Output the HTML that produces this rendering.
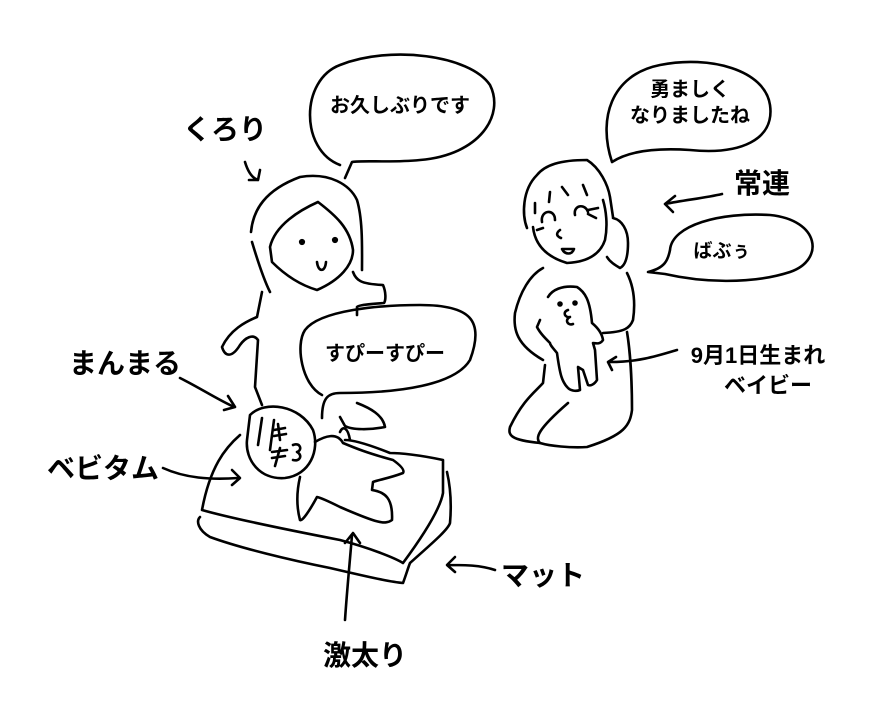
<!DOCTYPE html>
<html><head><meta charset="utf-8"><style>
body{margin:0;background:#fff;}
svg{display:block}
text{font-family:"Liberation Sans","Noto Sans CJK JP",sans-serif;font-weight:bold;fill:#000}
path,ellipse,circle{fill:none;stroke:#000;stroke-width:2.6;stroke-linecap:round;stroke-linejoin:round}
</style></head><body>
<svg width="890" height="710" viewBox="0 0 890 710">
<path d="M340,165 C300,150 300,80 340,65 C390,45 470,55 490,85 C505,115 480,155 420,160 C390,163 365,160 352,162 L345,178"/>
<text x="400" y="112" font-size="20" text-anchor="middle">お久しぶりです</text>
<path d="M612,162 C598,120 610,75 660,65 C710,55 765,70 770,105 C775,140 740,155 690,150 C660,148 630,150 612,162 Z"/>
<text x="690" y="96" font-size="20" text-anchor="middle">勇ましく</text>
<text x="690" y="122" font-size="20" text-anchor="middle">なりましたね</text>
<path d="M648,272 C665,268 668,260 670,250 C672,225 720,212 770,215 C820,220 825,260 790,272 C750,285 700,282 665,274 Z"/>
<text x="722" y="257" font-size="19" text-anchor="middle">ばぶぅ</text>
<path d="M322,395 C302,385 295,345 305,330 C320,310 380,305 420,305 C470,305 485,320 470,360 C455,385 400,393 340,393 C328,393 322,398 322,418"/>
<text x="385" y="360" font-size="20" text-anchor="middle">すぴーすぴー</text>
<path d="M251,232 C253,210 265,190 300,177 C330,172 350,185 357,200 C363,220 362,250 362,270"/>
<path d="M270,247 C275,225 300,210 318,202 C335,215 350,228 353,250 C353,265 340,280 317,290 C300,285 285,275 272,262 Z"/>
<path d="M252,242 C258,262 264,280 270,292"/>
<circle cx="302" cy="242" r="1.8" style="fill:#000"/><circle cx="335" cy="240" r="1.8" style="fill:#000"/>
<path d="M317,262 C318,272 325,273 326,262"/>
<path d="M353,272 C356,280 360,284 383,285 C386,292 386,300 384,303 C370,304 358,305 357,307 L357,315"/>
<path d="M262,292 L257,317 C245,322 230,330 222,347 C225,357 232,358 240,345 C245,338 253,333 258,340 L255,387 L262,405"/>
<path d="M357,403 C370,408 383,415 385,427 C370,430 352,430 345,426 L340,417"/>
<path d="M250,415 C265,400 300,405 313,430 C320,450 310,475 285,478 C260,480 245,460 247,440 Z"/>
<path d="M262,418 L258,445 M274,420 L270,450"/>
<path d="M274,430 L285,428 M274,436 L286,434 M278,424 L280,440"/>
<path d="M293,445 C300,442 303,450 297,452 C303,455 300,462 293,460"/>
<path d="M272,452 L287,450 M272,458 L285,456 M280,448 L275,466"/>
<path d="M315,442 C325,436 337,432 343,443 C355,448 367,453 393,460 C400,465 405,470 403,473 C390,478 378,480 373,482 L372,490 C385,492 393,498 392,520 C385,525 377,523 340,507 C330,502 322,498 317,497 C310,510 302,522 300,520 C296,505 297,490 300,477"/>
<path d="M340,432 C343,425 348,428 350,440"/>
<path d="M240,435 C225,448 210,467 202,510 C230,518 273,527 340,540 C370,548 395,558 403,563 C420,540 440,510 443,493 L443,460 C420,455 400,453 390,453 C370,445 355,440 345,440"/>
<path d="M200,517 C196,521 198,530 210,537 C240,548 290,560 330,568 C360,575 390,582 403,583 C406,575 408,568 410,563 C430,545 448,530 450,523 C452,500 450,485 447,472"/>
<path d="M527,228 C522,215 522,190 537,175 C545,165 560,160 587,160 C600,168 608,185 610,197 L613,217"/>
<path d="M533,227 C535,245 547,257 567,263 C587,262 600,255 605,240 C608,225 606,210 603,200"/>
<path d="M535,203 L535,213 M550,192 L549,202 M562,187 L568,195 M583,185 L587,195"/>
<path d="M542,222 C540,210 555,208 555,220 M543,228 L537,230"/>
<path d="M575,215 C573,205 585,203 588,212 M588,210 L598,208 M588,214 L596,218"/>
<path d="M560,230 C556,233 556,236 561,238"/>
<path d="M562,249 C565,255 572,255 574,249 Z"/>
<path d="M613,218 C622,220 628,230 628,243 C628,255 626,265 620,268 C615,265 610,262 607,257"/>
<path d="M543,268 C530,275 520,292 515,313 C513,330 517,345 543,360"/>
<path d="M627,273 C633,285 636,300 633,320 C630,328 625,332 603,333"/>
<path d="M627,332 C630,350 632,380 632,410 C630,425 625,435 587,447 C570,448 550,446 540,443 C535,438 537,430 568,403"/>
<path d="M545,365 L543,383 C535,392 523,400 510,427 C508,435 510,440 540,443"/>
<path d="M548,297 C552,290 562,285 577,287 C585,292 590,300 592,323 C598,328 602,333 603,340 C600,345 595,343 593,343 L595,350 L597,380 C594,385 590,386 588,385 L583,370 L578,367 L580,390 C575,392 570,390 568,388 C562,382 560,375 557,353 C553,348 550,345 550,343 C545,338 540,333 537,327 L540,320"/>
<circle cx="560" cy="304" r="1.5" style="fill:#000"/><circle cx="575" cy="303" r="1.5" style="fill:#000"/>
<path d="M568,310 C562,312 565,318 570,317 C564,320 568,326 573,324"/>
<text x="225" y="139" font-size="28" text-anchor="middle">くろり</text>
<path d="M245,162 C248,172 252,178 258,180 M249,180 L258,180 L260,170"/>
<text x="762" y="193" font-size="28" text-anchor="middle">常連</text>
<path d="M722,194 C705,198 685,200 665,204 M675,196 L665,204 L673,212"/>
<text x="125" y="373" font-size="28" text-anchor="middle">まんまる</text>
<path d="M180,378 C200,388 215,398 232,406 M228,396 L235,407 L224,410"/>
<text x="103" y="478" font-size="28" text-anchor="middle">ベビタム</text>
<path d="M163,468 C185,478 210,480 238,478 M232,470 L240,478 L232,485"/>
<text x="758" y="363" font-size="22" text-anchor="middle">9月1日生まれ</text>
<text x="768" y="393" font-size="22" text-anchor="middle">ベイビー</text>
<path d="M677,350 C660,355 640,362 610,362 M616,357 L608,362 L612,370"/>
<text x="543" y="585" font-size="28" text-anchor="middle">マット</text>
<path d="M495,570 C480,565 465,565 448,565 M455,557 L447,565 L455,572"/>
<text x="365" y="665" font-size="28" text-anchor="middle">激太り</text>
<path d="M345,620 C347,590 350,560 352,535 M345,543 L353,533 L360,543"/>
</svg>
</body></html>
